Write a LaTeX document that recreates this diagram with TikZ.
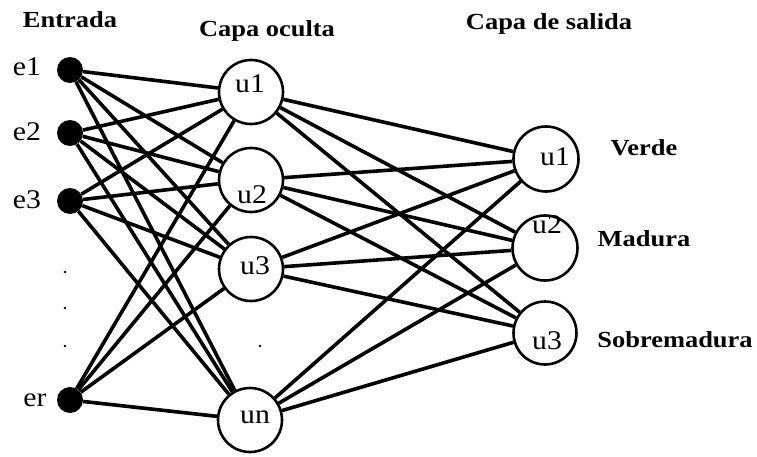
\documentclass[tikz,border=0pt]{standalone}
\usepackage{fontspec}
\setmainfont{Liberation Serif}
\newfontfamily\labelfont[FakeStretch=1.1]{Liberation Serif}
\newfontfamily\titlefont[FakeStretch=1.15]{Liberation Serif}

\begin{document}
\begin{tikzpicture}[x=1pt,y=-1pt,
  inp/.style={circle,fill=black,minimum size=26pt,inner sep=0pt},
  neuron/.style={circle,draw,line width=2.6pt,minimum size=64pt,inner sep=0pt},
  conn/.style={line width=3.6pt},
  title/.style={font=\titlefont\bfseries\fontsize{23}{27}\selectfont,anchor=base,inner sep=0pt},
  nlbl/.style={font=\labelfont\fontsize{27}{32}\selectfont,anchor=base,inner sep=0pt},
  gap/.style={circle,fill=black,minimum size=2.6pt,inner sep=0pt}]
\useasboundingbox (0,0) rectangle (757,457);

% input layer
\node[inp] (e1) at (70,70) {};
\node[inp] (e2) at (70,133) {};
\node[inp] (e3) at (70,201) {};
\node[inp] (er) at (70,400) {};

% hidden layer
\node[neuron] (h1) at (251,92) {};
\node[neuron] (h2) at (251,180) {};
\node[neuron] (h3) at (251,269) {};
\node[neuron] (hn) at (250,420) {};

% output layer
\node[neuron,minimum size=65pt] (o1) at (546,159) {};
\node[neuron,minimum size=65pt] (o2) at (545,248) {};
\node[neuron,minimum size=63pt] (o3) at (545,333) {};

% connections
\foreach \i in {e1,e2,e3,er}
  \foreach \j in {h1,h2,h3,hn}
    \draw[conn] (\i) -- (\j);
\foreach \i in {h1,h2,h3,hn}
  \foreach \j in {o1,o2,o3}
    \draw[conn] (\i) -- (\j);

% ellipsis dots between units
\node[gap] (d1) at (65,272) {};
\node[gap] (d2) at (65,308) {};
\node[gap] (d3) at (65,346) {};
\node[gap] (d4) at (260,346) {};

% unit labels
\node[nlbl] (le1) at (27,76) {e1};
\node[nlbl] (le2) at (27,141) {e2};
\node[nlbl] (le3) at (27,208) {e3};
\node[nlbl] (ler) at (35,406) {er};

\node[nlbl] (lh1) at (250,93) {u1};
\node[nlbl] (lh2) at (252,204) {u2};
\node[nlbl] (lh3) at (255,274) {u3};
\node[nlbl] (lhn) at (255,423) {un};

\node[nlbl] (lo1) at (555,166) {u1};
\node[nlbl] (lo2) at (547,233) {u2};
\node[nlbl] (lo3) at (547,349) {u3};

% titles and class names
\node[title] (t1) at (70,28) {Entrada};
\node[title] (t2) at (267,37) {Capa oculta};
\node[title] (t3) at (549,30) {Capa de salida};
\node[title] (c1) at (644,156) {Verde};
\node[title] (c2) at (644,246) {Madura};
\node[title] (c3) at (675,347) {Sobremadura};
\end{tikzpicture}
\end{document}
